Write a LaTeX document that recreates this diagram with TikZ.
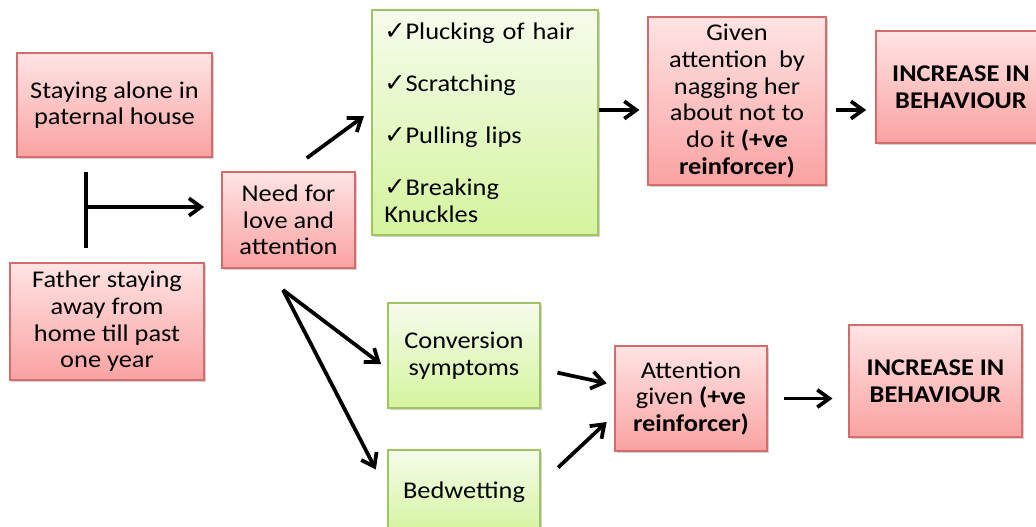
\documentclass[tikz,border=0pt]{standalone}
\usepackage{fontspec}
\setmainfont{Carlito}[FakeStretch=1.1]
\newfontfamily\symfont{DejaVu Sans}
\usepackage{tikz}
\usetikzlibrary{arrows.meta, shadows}

\definecolor{pinktop}{RGB}{255,228,228}
\definecolor{pinkbot}{RGB}{250,162,162}
\definecolor{pinkline}{RGB}{212,108,108}
\definecolor{greentop}{RGB}{246,252,236}
\definecolor{greenbot}{RGB}{212,244,158}
\definecolor{greenline}{RGB}{160,196,96}

\newcommand{\boxfont}{\fontsize{18}{20}\selectfont}
\newcommand{\tick}{{\symfont\bfseries\fontsize{19}{20}\selectfont ✓}}

\begin{document}
\begin{tikzpicture}[x=0.75pt, y=-0.75pt,
  size/.style 2 args={minimum width=#1*0.75pt, minimum height=#2*0.75pt},
  redbox/.style={draw=pinkline, line width=0.8pt, top color=pinktop, bottom color=pinkbot,
    drop shadow={shadow xshift=1.5pt, shadow yshift=-1.5pt, opacity=0.35},
    align=center, inner sep=2pt, font=\boxfont},
  greenbox/.style={redbox, draw=greenline, top color=greentop, bottom color=greenbot},
  arrow/.style={line width=2.8pt, -{Straight Barb[length=9pt, width=13pt]}},
  bar/.style={line width=2.8pt}]

\useasboundingbox (0,0) rectangle (1036,527);

\node[redbox, size={195}{104}] (alone) at (114.5,105) {Staying alone in\\paternal house};
\node[redbox, size={194}{117}] (father) at (107,321.5) {Father staying\\away from\\home till past\\one year};
\node[redbox, size={133}{96}] (need) at (288.5,220) {Need for\\love and\\attention};

\node[greenbox, size={226}{225}, align=left, inner xsep=9pt, text width=151pt] (habits) at (485,122.5)
  {\tick Plucking of hair\\[19pt]\tick Scratching\\[19pt]\tick Pulling lips\\[19pt]\tick Breaking\\Knuckles};

\node[redbox, size={178}{168}] (nagging) at (737,101)
  {Given\\attention~~by\\nagging her\\about not to\\do it \textbf{(+ve}\\\textbf{reinforcer)}};
\node[redbox, size={170}{112}, font=\boxfont\bfseries] (incrtop) at (961,87) {INCREASE IN\\BEHAVIOUR};

\node[greenbox, size={152}{105}] (conversion) at (464,355.5) {Conversion\\symptoms};
\node[greenbox, size={152}{84}] (bedwetting) at (464,492) {Bedwetting};
\node[redbox, size={152}{105}] (attention) at (691,398.5) {Attention\\given \textbf{(+ve}\\\textbf{reinforcer)}};
\node[redbox, size={173}{112}, font=\boxfont\bfseries] (incrbot) at (935.5,381) {INCREASE IN\\BEHAVIOUR};

\coordinate (junction) at (86,207);
\coordinate (row) at (0,110);
\coordinate (fork) at (283,290);

\draw[bar, shorten <=11pt, shorten >=11pt] (junction |- alone.south) -- (junction |- father.north);
\draw[arrow, shorten >=13pt] (junction) -- (junction -| need.west);
\draw[arrow, shorten <=17pt, shorten >=7pt] (need.north) -- (habits.174);
\draw[arrow, shorten >=6pt] (habits.east |- row) -- (nagging.west |- row);
\draw[arrow, shorten <=7pt, shorten >=7pt] (nagging.east |- row) -- (incrtop.west |- row);

\draw[arrow, shorten >=6pt] (fork) -- (conversion.190);
\draw[arrow, shorten >=19pt] (fork) -- (bedwetting.west);
\draw[arrow, shorten <=13pt, shorten >=6pt] (conversion.-10) -- (attention.170);
\draw[arrow, shorten <=18pt, shorten >=8pt] (bedwetting.6) -- (attention.-168);
\draw[arrow, shorten <=12pt, shorten >=12pt] (attention.east) -- (attention.east -| incrbot.west);

\end{tikzpicture}
\end{document}
